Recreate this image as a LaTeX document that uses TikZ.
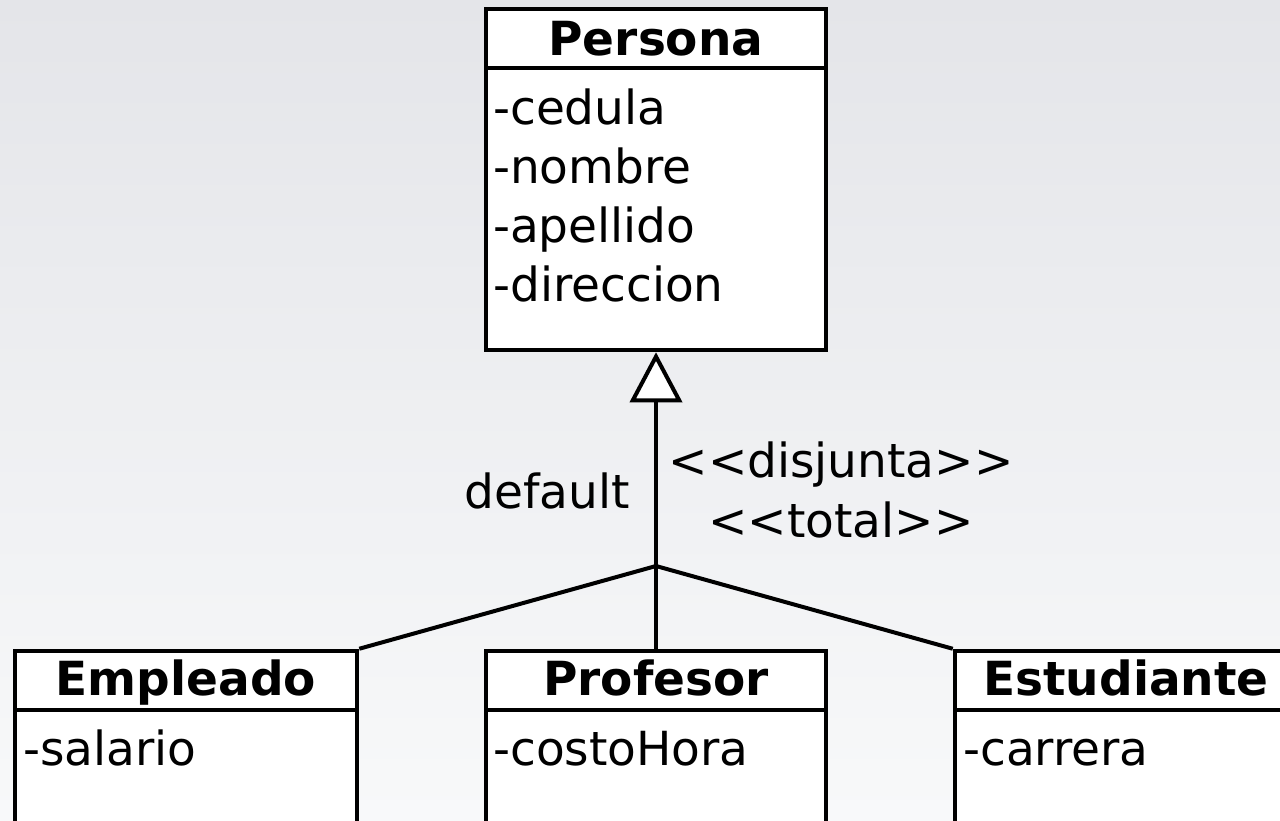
\documentclass[tikz,border=0pt]{standalone}
\usepackage{fontspec}
\setmainfont{DejaVu Sans}
\usetikzlibrary{arrows.meta}
\definecolor{bgtop}{RGB}{228,229,233}
\definecolor{bgbot}{RGB}{248,249,250}
\tikzset{
  classbox/.style={draw=black, fill=white, line width=4.5pt, rectangle, inner sep=0pt},
  divider/.style={draw=black, line width=4.5pt},
  title/.style={anchor=base, inner sep=0pt, font=\fontsize{47}{56}\selectfont\bfseries},
  attr/.style={anchor=base west, inner sep=0pt, font=\fontsize{47}{56}\selectfont},
  lbl/.style={inner sep=0pt, font=\fontsize{47}{56}\selectfont},
  conn/.style={draw=black, line width=4pt},
}
\begin{document}
\begin{tikzpicture}[x=1pt,y=-1pt]
\useasboundingbox (0,0) rectangle (1280,820);
\clip (0,0) rectangle (1280,820);
\shade[top color=bgtop, bottom color=bgbot] (0,0) rectangle (1280,820);

% Persona
\node[classbox, minimum width=340pt, minimum height=341pt] (persona) at (656,179.5) {};
\draw[divider] (486,68) -- (826,68);
\node[title] (tpersona) at (656,55) {Persona};
\node[attr] (a1) at (493,124) {-cedula};
\node[attr] (a2) at (493,183) {-nombre};
\node[attr] (a3) at (493,242) {-apellido};
\node[attr] (a4) at (493,301) {-direccion};

% Empleado
\node[classbox, minimum width=342pt, minimum height=249pt] (emp) at (186,775.5) {};
\draw[divider] (15,710) -- (357,710);
\node[title] (temp) at (186,695) {Empleado};
\node[attr] (e1) at (23,765) {-salario};

% Profesor
\node[classbox, minimum width=340pt, minimum height=249pt] (prof) at (656,775.5) {};
\draw[divider] (486,710) -- (826,710);
\node[title] (tprof) at (656,695) {Profesor};
\node[attr] (p1) at (493,765) {-costoHora};

% Estudiante
\node[classbox, minimum width=342pt, minimum height=249pt] (est) at (1126,775.5) {};
\draw[divider] (955,710) -- (1297,710);
\node[title] (test) at (1126,695) {Estudiante};
\node[attr] (s1) at (963,765) {-carrera};

% generalization
\coordinate (junc) at (656,566);
\draw[conn] (junc) -- (emp.north east);
\draw[conn] (junc) -- (prof.north);
\draw[conn] (junc) -- (est.north west);
\draw[conn, -{Triangle[length=50pt, width=52pt, fill=white]}] (junc) -- (persona.south);

% labels
\node[lbl, anchor=base east] (ldefault) at (630,508) {default};
\node[lbl, anchor=base] (ldisj) at (841,477) {{<}{<}disjunta{>}{>}};
\node[lbl, anchor=base] (ltotal) at (841,537) {{<}{<}total{>}{>}};
\end{tikzpicture}
\end{document}
